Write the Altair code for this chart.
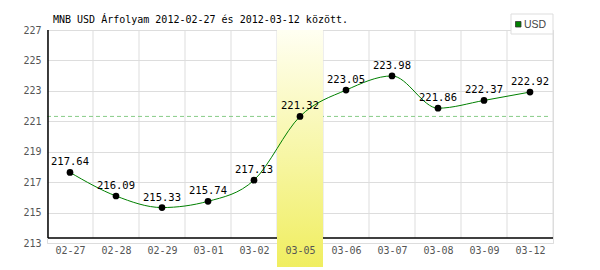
import altair as alt
import pandas as pd

dates = ["02-27", "02-28", "02-29", "03-01", "03-02", "03-05",
         "03-06", "03-07", "03-08", "03-09", "03-12"]
values = [217.64, 216.09, 215.33, 215.74, 217.13, 221.32,
          223.05, 223.98, 221.86, 222.37, 222.92]
highlight_index = 5
reference_value = 221.32
y_ticks = [213, 215, 217, 219, 221, 223, 225, 227]
title_text = "MNB USD Árfolyam 2012-02-27 és 2012-03-12 között."
series_name = "USD"

W, H = 506, 213
MONO = "DejaVu Sans Mono"

df = pd.DataFrame({
    "idx": [i + 0.5 for i in range(len(dates))],
    "date": dates,
    "value": values,
    "label": [f"{v:.2f}" for v in values],
})
bounds = pd.DataFrame({"b": list(range(1, len(dates) + 1))})
hl = pd.DataFrame({"x": [highlight_index], "x2": [highlight_index + 1]})
ref = pd.DataFrame({"v": [reference_value]})

label_expr = "[" + ",".join(f"'{d}'" for d in dates) + "][floor(datum.value)]"

xscale = alt.Scale(domain=[0, len(dates)], nice=False, zero=False)
yscale = alt.Scale(domain=[213, 227], nice=False, zero=False)

xaxis = alt.Axis(values=[i + 0.5 for i in range(len(dates))], labelExpr=label_expr,
                 grid=False, domain=False, ticks=False, labelFont=MONO,
                 labelFontSize=10, labelColor="#555555", labelPadding=2,
                 labelOverlap=False, title=None, zindex=1)
yaxis = alt.Axis(values=y_ticks, grid=True, gridColor="#dddddd", domain=False,
                 ticks=False, labelFont=MONO, labelFontSize=10,
                 labelColor="#555555", labelPadding=6, labelOverlap=False,
                 labelFlush=False, title=None)


def X(field):
    return alt.X(field, type="quantitative", scale=xscale, axis=xaxis)


def Y(field):
    return alt.Y(field, type="quantitative", scale=yscale, axis=yaxis)


base = alt.Chart(df)

vgrid = alt.Chart(bounds).mark_rule(color="#dddddd", strokeWidth=1).encode(
    x=X("b"), y=alt.value(0), y2=alt.value(208))

yaxis_layer = alt.Chart(ref).mark_rule(opacity=0).encode(y=Y("v"))

refline = alt.Chart(ref).mark_rule(color="#88cc88", strokeDash=[4, 3], strokeWidth=1).encode(
    y=Y("v"), x=alt.value(0), x2=alt.value(W - 3))

left_axis = alt.Chart(ref).mark_rule(color="black", strokeWidth=1.5).encode(
    x=alt.value(1), y=alt.value(0), y2=alt.value(208))
bottom_axis = alt.Chart(ref).mark_rule(color="black", strokeWidth=1.5).encode(
    y=alt.value(208), x=alt.value(1), x2=alt.value(W))

highlight = alt.Chart(hl).mark_rect(
    fill=alt.Gradient(gradient="linear", x1=0, x2=0, y1=0, y2=1,
                      stops=[alt.GradientStop(color="#fffff2", offset=0),
                             alt.GradientStop(color="#f0ee60", offset=1)])
).encode(x=X("x"), x2="x2:Q", y=alt.value(0), y2=alt.value(237))

line = base.mark_line(interpolate="monotone", color="#008000", strokeWidth=1).encode(
    x=X("idx"), y=Y("value"))
points = base.mark_circle(size=45, color="black", opacity=1).encode(
    x=X("idx"), y=Y("value"))
labels = base.mark_text(font=MONO, fontSize=10.5, color="black", dy=-7,
                        baseline="alphabetic").encode(
    x=X("idx"), y=Y("value"), text="label:N")

title = alt.Chart(ref).mark_text(font=MONO, fontSize=10, color="black", align="left",
                                 baseline="alphabetic", text=title_text).encode(
    x=alt.value(6), y=alt.value(-7.5))

legend_box = alt.Chart(ref).mark_rect(fill="white", stroke="#dddddd", strokeWidth=1).encode(
    x=alt.value(464), x2=alt.value(506), y=alt.value(-16), y2=alt.value(4))
legend_sym = alt.Chart(ref).mark_rect(fill="#008000", stroke="#333333", strokeWidth=0.8).encode(
    x=alt.value(468.5), x2=alt.value(474), y=alt.value(-8.5), y2=alt.value(-3))
legend_txt = alt.Chart(ref).mark_text(font="Liberation Sans", fontSize=10.5,
                                      color="#444444", align="left", baseline="middle",
                                      text=series_name).encode(
    x=alt.value(477), y=alt.value(-5.5))

chart = alt.layer(
    yaxis_layer, vgrid, refline, left_axis, bottom_axis, highlight,
    line, points, labels, title, legend_box, legend_sym, legend_txt
).properties(
    width=W, height=H,
    padding={"left": 47, "top": 30, "right": 47, "bottom": 27},
    autosize=alt.AutoSizeParams(type="none"),
).configure_view(stroke=None).configure(background="white")

chart.save("out.html", embed_options={"renderer": "svg", "actions": False})
